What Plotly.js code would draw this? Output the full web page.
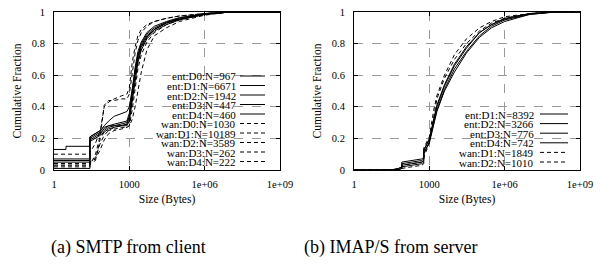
<!DOCTYPE html>
<html><head><meta charset="utf-8">
<script src="https://cdn.plot.ly/plotly-3.0.1.min.js"></script>
<style>html,body{margin:0;padding:0;background:#fff}</style>
</head><body>
<div id="chart" style="width:602px;height:264px"></div>
<script>
// ---------- (a) SMTP from client ----------
const smtpSize = [1, 3, 3, 27, 27, 45, 70, 100, 150, 250, 500, 800, 1000, 1300, 1700, 2200, 3000, 5000, 1e4, 3e4, 1e5, 1e6, 1e7, 1e9];
const smtpEntD0 = [.13,.13,.15,.15,.21,.23,.25,.28,.31,.34,.36,.37,.40,.52,.64,.73,.80,.86,.90,.935,.96,.99,1,1];
const smtpEntD1 = [.06,.06,.06,.06,.19,.21,.23,.25,.27,.28,.29,.30,.34,.49,.62,.72,.79,.85,.89,.93,.955,.985,1,1];
const smtpEntD2 = [.05,.05,.05,.05,.18,.20,.22,.24,.26,.27,.28,.29,.33,.47,.60,.70,.78,.84,.89,.93,.955,.985,1,1];
const smtpEntD3 = [.01,.01,.01,.01,.20,.22,.24,.26,.28,.29,.30,.31,.36,.52,.65,.75,.81,.87,.91,.94,.965,.99,1,1];
const smtpEntD4 = [.07,.07,.07,.07,.21,.23,.25,.27,.28,.28,.28,.28,.31,.44,.58,.68,.76,.83,.88,.92,.95,.985,1,1];
const smtpWanD0 = [.10,.10,.10,.10,.11,.17,.25,.40,.43,.45,.47,.48,.52,.68,.78,.85,.89,.92,.94,.96,.975,.99,1,1];
const smtpWanD1 = [.04,.04,.04,.04,.05,.08,.17,.22,.25,.27,.28,.29,.31,.42,.56,.68,.77,.84,.89,.93,.96,.99,1,1];
const smtpWanD2 = [.03,.03,.03,.03,.04,.06,.20,.24,.25,.26,.27,.27,.28,.38,.52,.64,.73,.81,.87,.92,.95,.985,1,1];
const smtpWanD3 = [.02,.02,.02,.02,.03,.10,.22,.41,.44,.44,.45,.45,.48,.62,.74,.82,.87,.91,.94,.96,.975,.99,1,1];
const smtpWanD4 = [.04,.04,.04,.04,.05,.07,.13,.19,.23,.25,.26,.27,.28,.32,.40,.50,.62,.76,.85,.90,.94,.98,1,1];
const smtpLabels = ["ent:D0:N=967","ent:D1:N=6671","ent:D2:N=1942","ent:D3:N=447","ent:D4:N=460",
                    "wan:D0:N=1030","wan:D1:N=10189","wan:D2:N=3589","wan:D3:N=262","wan:D4:N=222"];
const smtpSeries = [smtpEntD0, smtpEntD1, smtpEntD2, smtpEntD3, smtpEntD4,
                    smtpWanD0, smtpWanD1, smtpWanD2, smtpWanD3, smtpWanD4];

// ---------- (b) IMAP/S from server ----------
const imapSize = [1, 30, 60, 80, 80, 200, 500, 600, 600, 1000, 1500, 2000, 4000, 1e4, 3e4, 1e5, 3e5, 1e6, 1e7, 1e8, 1e9];
const imapEntD1 = [0,0,.01,.02,.05,.06,.07,.08,.13,.19,.32,.40,.53,.66,.77,.87,.92,.955,.99,1,1];
const imapEntD2 = [0,0,.01,.02,.04,.05,.06,.07,.11,.17,.29,.37,.50,.62,.74,.84,.90,.94,.985,1,1];
const imapEntD3 = [0,0,0,.01,.03,.04,.05,.06,.12,.20,.33,.41,.54,.67,.78,.87,.92,.96,.99,1,1];
const imapEntD4 = [0,0,.005,.01,.02,.03,.04,.05,.10,.18,.30,.38,.51,.64,.75,.85,.91,.95,.985,1,1];
const imapWanD1 = [0,0,0,.005,.03,.04,.05,.06,.14,.21,.38,.47,.60,.73,.83,.90,.94,.97,.99,1,1];
const imapWanD2 = [0,0,0,0,.01,.02,.03,.04,.08,.17,.35,.45,.58,.70,.80,.88,.93,.96,.99,1,1];
const imapLabels = ["ent:D1:N=8392","ent:D2:N=3266","ent:D3:N=776","ent:D4:N=742","wan:D1:N=1849","wan:D2:N=1010"];
const imapSeries = [imapEntD1, imapEntD2, imapEntD3, imapEntD4, imapWanD1, imapWanD2];

const xTickVals = [1, 1000, 1e6, 1e9];
const xTickText = ["1", "1000", "1e+06", "1e+09"];
const captions = ["(a) SMTP from client", "(b) IMAP/S from server"];

// ---------- layout helpers ----------
const W = 602, H = 264;
const FONT = "Liberation Serif";
const DASH = "4px,3px";
const px = v => v / W;
const py = v => 1 - v / H;

const traces = [];
function addSeries(xs, list, labels, xa, ya) {
  list.forEach((ys, i) => {
    traces.push({
      x: xs, y: ys, type: "scatter", mode: "lines", name: labels[i],
      xaxis: xa, yaxis: ya, showlegend: false, hoverinfo: "skip",
      line: {color: "#000", width: 1, dash: labels[i].startsWith("wan") ? DASH : "solid"}
    });
  });
}
addSeries(smtpSize, smtpSeries, smtpLabels, "x", "y");
addSeries(imapSize, imapSeries, imapLabels, "x2", "y2");

function xAxis(domain, anchor) {
  return {
    domain: domain, anchor: anchor, type: "log", range: [0, 9],
    tickvals: xTickVals, ticktext: xTickText,
    ticks: "inside", ticklen: 4, tickcolor: "#000", mirror: "allticks",
    showline: true, linecolor: "#000", linewidth: 1,
    showgrid: true, gridcolor: "#9a9a9a", griddash: "dash", gridwidth: 1,
    zeroline: false, automargin: false, ticklabelstandoff: 4,
    tickfont: {family: FONT, size: 10.5, color: "#000"},
    title: {text: "Size (Bytes)", font: {family: FONT, size: 11.5, color: "#000"}, standoff: 6}
  };
}
function yAxis(domain, anchor) {
  return {
    domain: domain, anchor: anchor, range: [0, 1], dtick: 0.2, tick0: 0,
    ticks: "inside", ticklen: 4, tickcolor: "#000", mirror: "allticks",
    showline: true, linecolor: "#000", linewidth: 1,
    showgrid: true, gridcolor: "#9a9a9a", griddash: "dash", gridwidth: 1,
    zeroline: false, automargin: false, ticklabelstandoff: 6,
    tickfont: {family: FONT, size: 10.5, color: "#000"},
    title: {text: "Cumulative Fraction", font: {family: FONT, size: 11.5, color: "#000"}, standoff: 7}
  };
}
const yDom = [py(170), py(12)];

const shapes = [], annotations = [];
function addLegend(labels, boxL, boxT, boxR, boxB, textR, lineL, lineR, row0, rowStep) {
  shapes.push({type: "rect", xref: "paper", yref: "paper", layer: "between",
    x0: px(boxL), x1: px(boxR), y0: py(boxB), y1: py(boxT),
    fillcolor: "#fff", line: {width: 0}});
  labels.forEach((t, i) => {
    const yy = row0 + i * rowStep;
    annotations.push({text: t, xref: "paper", yref: "paper", x: px(textR), y: py(yy),
      xanchor: "right", yanchor: "middle", showarrow: false, borderpad: 0, height: 9,
      font: {family: FONT, size: 11, color: "#000"}});
    shapes.push({type: "line", xref: "paper", yref: "paper",
      x0: px(lineL), x1: px(lineR), y0: py(yy), y1: py(yy),
      line: {color: "#000", width: 1, dash: t.startsWith("wan") ? DASH : "solid"}});
  });
}
addLegend(smtpLabels, 156, 70, 275, 166, 237, 240, 265, 76, 9.5);
addLegend(imapLabels, 465, 108, 575, 166, 535, 540, 568, 114, 9.6);

annotations.push({text: captions[0], xref: "paper", yref: "paper", x: px(128), y: py(247),
  xanchor: "center", yanchor: "middle", showarrow: false, font: {family: FONT, size: 18, color: "#000"}});
annotations.push({text: captions[1], xref: "paper", yref: "paper", x: px(390), y: py(247),
  xanchor: "center", yanchor: "middle", showarrow: false, font: {family: FONT, size: 18, color: "#000"}});

const layout = {
  width: W, height: H, margin: {l: 0, r: 0, t: 0, b: 0},
  paper_bgcolor: "#fff", plot_bgcolor: "#fff", showlegend: false,
  font: {family: FONT, color: "#000"},
  xaxis: xAxis([px(54), px(280)], "y"),
  yaxis: yAxis(yDom, "x"),
  xaxis2: xAxis([px(354), px(580)], "y2"),
  yaxis2: yAxis(yDom, "x2"),
  shapes: shapes, annotations: annotations
};
Plotly.newPlot("chart", traces, layout, {staticPlot: true, displayModeBar: false});
</script>
</body></html>
